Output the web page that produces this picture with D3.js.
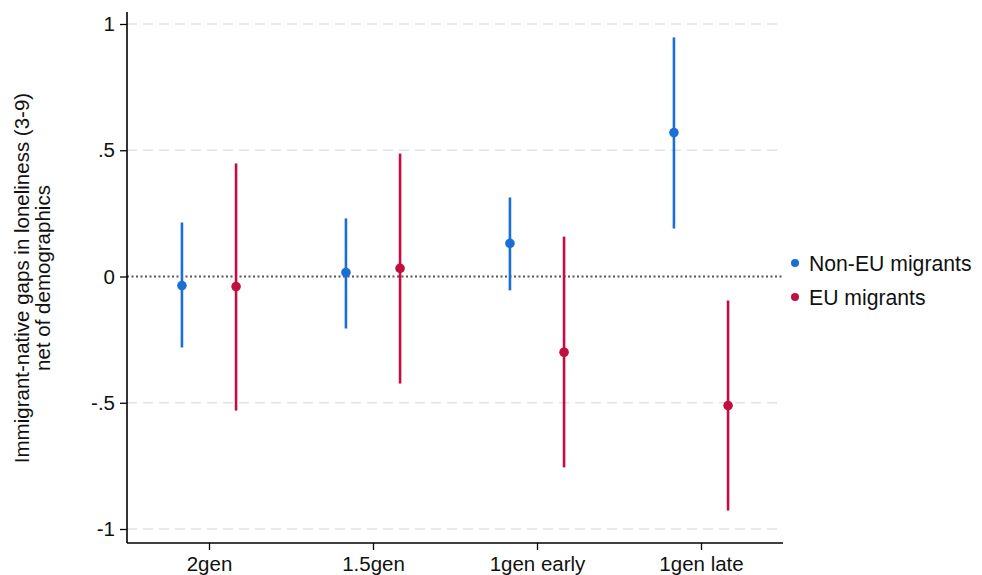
<!DOCTYPE html>
<html><head><meta charset="utf-8">
<script src="https://cdn.jsdelivr.net/npm/d3@7"></script>
<style>body{margin:0;background:#fff;font-family:"Liberation Sans",Arial,sans-serif}</style>
</head><body><svg id="c" width="982" height="575"></svg>
<script>
const categories = ["2gen","1.5gen","1gen early","1gen late"];
const seriesNames = ["Non-EU migrants","EU migrants"];
const nonEUEst = [-0.036, 0.016, 0.131, 0.570];
const nonEULo  = [-0.281, -0.206, -0.055, 0.190];
const nonEUHi  = [0.214, 0.230, 0.313, 0.947];
const euEst = [-0.040, 0.032, -0.300, -0.511];
const euLo  = [-0.531, -0.424, -0.756, -0.927];
const euHi  = [0.448, 0.487, 0.158, -0.095];
const yTicks = [1, 0.5, 0, -0.5, -1];
const yTickLabels = ["1", ".5", "0", "-.5", "-1"];

const colors = ["#1a6fd6", "#c30f40"];
const FONT = 20.5;
const svg = d3.select("#c");
const L = 127, R = 783, T = 12, B = 543;
const x = d3.scaleLinear().domain([0.5, 4.5]).range([L, R]);
const y = d3.scaleLinear().domain([-1, 1]).range([529, 24]);
const offset = 0.165;

// grid
svg.append("g").selectAll("line").data(yTicks.filter(d => d !== 0)).join("line")
  .attr("x1", L).attr("x2", R).attr("y1", d => y(d)).attr("y2", d => y(d))
  .attr("stroke", "#e2e2e2").attr("stroke-width", 1.3).attr("stroke-dasharray", "10,6");
// zero line
svg.append("line").attr("x1", L).attr("x2", R).attr("y1", y(0)).attr("y2", y(0))
  .attr("stroke", "#555").attr("stroke-width", 2).attr("stroke-dasharray", "2,2.5");

// axes
const yAxis = d3.axisLeft(y).tickValues(yTicks).tickFormat((d, i) => yTickLabels[i]).tickSize(7).tickPadding(5);
const gy = svg.append("g").attr("transform", `translate(${L},0)`).call(yAxis);
gy.select(".domain").remove();
gy.append("line").attr("x1", 0).attr("x2", 0).attr("y1", T).attr("y2", B).attr("stroke", "#000").attr("stroke-width", 1.6);
gy.selectAll(".tick line").attr("stroke", "#000").attr("stroke-width", 1.3);
gy.selectAll(".tick text").attr("font-size", FONT).attr("fill", "#111").attr("font-family", "Liberation Sans, Arial, sans-serif");

const xAxis = d3.axisBottom(x).tickValues([1,2,3,4]).tickFormat(d => categories[d-1]).tickSize(7).tickPadding(6);
const gx = svg.append("g").attr("transform", `translate(0,${B})`).call(xAxis);
gx.select(".domain").remove();
gx.append("line").attr("x1", L).attr("x2", R).attr("y1", 0).attr("y2", 0).attr("stroke", "#000").attr("stroke-width", 1.6);
gx.selectAll(".tick line").attr("stroke", "#000").attr("stroke-width", 1.3);
gx.selectAll(".tick text").attr("font-size", FONT).attr("fill", "#111").attr("font-family", "Liberation Sans, Arial, sans-serif");

// y title
const yt = svg.append("text").attr("transform", "translate(29,278) rotate(-90)")
  .attr("text-anchor", "middle").attr("font-size", FONT).attr("fill", "#111");
yt.append("tspan").attr("x", 0).attr("dy", 0).text("Immigrant-native gaps in loneliness (3-9)");
yt.append("tspan").attr("x", 0).attr("dy", 21).text("net of demographics");

// data
const series = [
  {est: nonEUEst, lo: nonEULo, hi: nonEUHi, off: -offset, c: colors[0]},
  {est: euEst, lo: euLo, hi: euHi, off: offset, c: colors[1]}
];
series.forEach(s => {
  const g = svg.append("g");
  const d = categories.map((c, i) => ({i, est: s.est[i], lo: s.lo[i], hi: s.hi[i]}));
  g.selectAll("line").data(d).join("line")
    .attr("x1", v => x(v.i + 1 + s.off)).attr("x2", v => x(v.i + 1 + s.off))
    .attr("y1", v => y(v.lo)).attr("y2", v => y(v.hi))
    .attr("stroke", s.c).attr("stroke-width", 2.6);
  g.selectAll("circle").data(d).join("circle")
    .attr("cx", v => x(v.i + 1 + s.off)).attr("cy", v => y(v.est)).attr("r", 4.8)
    .attr("fill", s.c);
});

// legend
const lg = svg.append("g");
seriesNames.forEach((n, i) => {
  const yy = 263 + i * 34;
  lg.append("circle").attr("cx", 795).attr("cy", yy).attr("r", 4).attr("fill", colors[i]);
  lg.append("text").attr("x", 809).attr("y", yy + 7.5).attr("font-size", 21.2).attr("fill", "#111").text(n);
});
</script></body></html>
